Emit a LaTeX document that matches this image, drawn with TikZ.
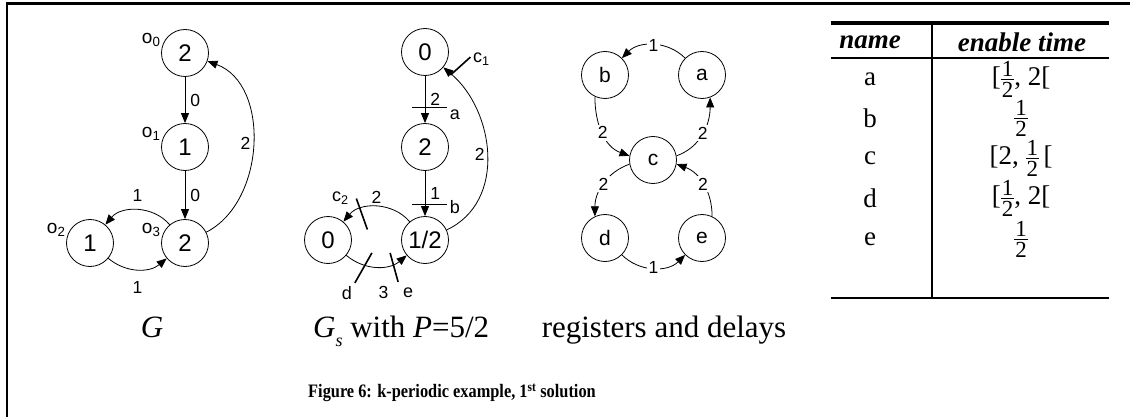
\documentclass[tikz,border=0pt]{standalone}
\usepackage{fontspec}
\setmainfont{Liberation Serif}
\newfontfamily\graphfont{Liberation Sans}
\usetikzlibrary{arrows.meta,calc}

\tikzset{
  vertex/.style={draw, circle, minimum size=47pt, inner sep=0pt, line width=0.8pt,
    font=\graphfont\fontsize{24}{24}\selectfont},
  smallvertex/.style={vertex, font=\graphfont\fontsize{21}{21}\selectfont},
  edge/.style={draw, line width=0.8pt, -{Triangle[length=10pt,width=8pt]}},
  weight/.style={font=\graphfont\fontsize{17.5}{17.5}\selectfont, inner sep=2pt},
  olabel/.style={font=\graphfont\fontsize{19}{19}\selectfont, inner sep=1pt},
  reg/.style={draw, line width=1.6pt},
  regname/.style={font=\graphfont\fontsize{18}{18}\selectfont, inner sep=0pt},
  caption/.style={font=\fontsize{31}{31}\selectfont, inner sep=0pt, anchor=base},
  tbltext/.style={font=\fontsize{27}{27}\selectfont, inner sep=0pt}
}
% one half, stacked by hand
\newcommand{\tbldigit}[1]{\hbox{\kern1pt\fontsize{23}{23}\selectfont #1\kern1pt}}
\newcommand{\half}{\ensuremath{\vcenter{\tbldigit{1}\kern2.5pt\hrule height 0.8pt\kern2.5pt\tbldigit{2}}}}

\begin{document}
\begin{tikzpicture}[x=1pt, y=-1pt]
    \useasboundingbox (0,0) rectangle (1130,417);
    % frame
    \draw[line width=2.5pt] (7,417) -- (7,3.5) -- (1130,3.5);

    % graph G
    \foreach \pos/\name/\val/\idx in {{(185,53)/o0/2/0}, {(185,147)/o1/1/1}, {(90,243)/o2/1/2}, {(185,243)/o3/2/3}}
        \node[vertex, label={[olabel]168:o\textsubscript{\idx}}] (\name) at \pos {\val};
    \path[edge] (o0) -- node[weight, right=3pt] {0} (o1);
    \path[edge] (o1) -- node[weight, right=3pt] {0} (o3);
    \path[edge] (o3) to[bend right=50] node[weight, above=6pt] {1} (o2);
    \path[edge] (o2) to[bend right=40] node[weight, below=10pt] {1} (o3);
    \path[edge] (o3) to[out=27, in=-20] node[weight, left] {2} (o0);
    \node[caption] (capG) at (152,337) {\textit{G}};

    % graph G_s, with its registers
    \foreach \pos/\name/\val in {{(425,52)/s0/0}, {(425,147)/s1/2}, {(328,240)/s3/0}, {(425,240)/s2/{1/2}}}
        \node[vertex] (\name) at \pos {\val};
    \path[edge] (s0) -- node[weight, right=3pt] {2} coordinate[pos=0.67] (ra) (s1);
    \path[edge] (s1) -- node[weight, right=3pt] {1} coordinate[pos=0.74] (rb) (s2);
    \path[edge] (s2) to[out=25, in=-40, looseness=1.05] node[weight, left] {2} coordinate[pos=0.93] (rc1) (s0);
    \path[edge] (s2) to[bend right=50] node[weight, above=1pt] {2} coordinate[pos=0.78] (rc2) (s3);
    \path[edge] (s3) to[bend right=40] node[weight, below=17pt, xshift=7pt] {3} coordinate[pos=0.3] (rd) coordinate[pos=0.7] (re) (s2);
    \draw[reg] ($(ra)+(-13,0)$) -- ($(ra)+(22,0)$);
    \draw[reg] ($(rb)+(-13,0)$) -- ($(rb)+(22,0)$);
    \draw[reg] ($(rc1)+(-3,-2)$) -- ($(rc1)+(17,-20)$);
    \draw[reg] ($(rc2)+(0,-13)$) -- ($(rc2)+(11,18)$);
    \draw[reg] ($(rd)+(8,-12)$) -- ($(rd)+(-9,18)$);
    \draw[reg] ($(re)+(1,-12)$) -- ($(re)+(9,17)$);
    \node[regname] (na) at ($(ra)+(30,7)$) {a};
    \node[regname] (nb) at ($(rb)+(30,3)$) {b};
    \node[regname] (nc1) at ($(rc1)+(28,-18)$) {c\textsubscript{1}};
    \node[regname] (nc2) at ($(rc2)+(-16,-13)$) {c\textsubscript{2}};
    \node[regname] (nd) at ($(rd)+(-17,28)$) {d};
    \node[regname] (ne) at ($(re)+(19,28)$) {e};
    \node[caption, anchor=base west] (capGs) at (313,337)
        {\textit{G}\raisebox{-0.3em}{\fontsize{18}{18}\selectfont\textit{s}} with \textit{P}=5/2};

    % registers and delays
    \foreach \pos/\name in {{(702,75)/a}, {(605,75)/b}, {(653,160)/c}, {(605,238)/d}, {(702,238)/e}}
        \node[smallvertex] (\name) at \pos {\name};
    \path[edge] (a) to[bend right=45] node[weight, fill=white] {1} (b);
    \path[edge] (b.245) to[out=-90, in=160] node[weight, fill=white] {2} (c.170);
    \path[edge] (c.10) to[out=20, in=-90] node[weight, fill=white] {2} (a.-70);
    \path[edge] (c.190) to[out=200, in=90] node[weight, fill=white] {2} (d.115);
    \path[edge] (e.65) to[out=90, in=-20] node[weight, fill=white] {2} (c.-10);
    \path[edge] (d) to[bend right=45] node[weight, fill=white] {1} (e);
    \node[caption] (capReg) at (664,337) {registers and delays};

    % enable times
    \draw[line width=3.5pt] (831,23) -- (1109,23);
    \draw[line width=1.5pt] (831,58) -- (1109,58);
    \draw[line width=2pt] (831,298) -- (1109,298);
    \draw[line width=2pt] (932,25) -- (932,298);
    \node[tbltext] (hname) at (870,42) {\textbf{\textit{name}}};
    \node[tbltext] (htime) at (1022,42) {\textbf{\textit{enable time}}};
    \foreach \nm/\tm/\y in {a/{[\half, 2[}/79, b/\half/118, c/{[2,\ \half\,[}/158, d/{[\half, 2[}/198, e/\half/239} {
        \node[tbltext] (n-\nm) at (870,\y) {\nm};
        \node[tbltext] (t-\nm) at (1021,\y) {\tm};
    }

    \node[inner sep=0pt] (figcap) at (452,393)
        {\scalebox{0.86}[1]{\fontsize{19}{19}\selectfont\bfseries Figure 6: k-periodic example, 1\textsuperscript{st} solution}};
\end{tikzpicture}
\end{document}
